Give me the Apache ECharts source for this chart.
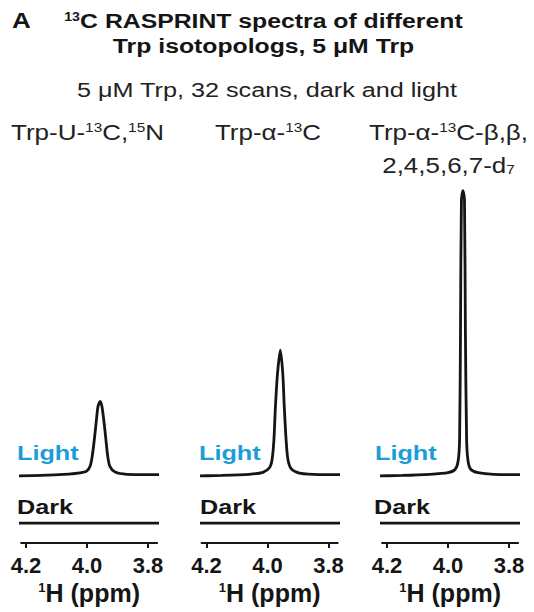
<!DOCTYPE html>
<html><head><meta charset="utf-8">
<script src="https://cdn.jsdelivr.net/npm/echarts@6/dist/echarts.min.js"></script>
<style>html,body{margin:0;padding:0;background:#fff}#c{width:534px;height:612px}</style>
</head><body><div id="c"></div>
<script>
// ---------- data ----------
const panelLetter = 'A';
const titleLines = ['{sup|13}C RASPRINT spectra of different', 'Trp isotopologs, 5 μM Trp'];
const subtitle = '5 μM Trp, 32 scans, dark and light';
const panelLabels = [
  ['Trp-U-{sup|13}C,{sup|15}N'],
  ['Trp-α-{sup|13}C'],
  ['Trp-α-{sup|13}C-β,β,', '2,4,5,6,7-d{sub|7}']
];
const traceNames = ['Light', 'Dark'];
const ppmTicks = [4.2, 4.0, 3.8];
const axisName = '{sup|1}H (ppm)';

// Light spectra (ppm, intensity relative to baseline; panel-3 peak = 100)
const light1Ppm = [4.25, 4.15, 4.06, 4.023, 4.001, 3.990, 3.983, 3.976, 3.970, 3.964, 3.957, 3.951, 3.944, 3.938, 3.932, 3.925, 3.908, 3.869, 3.80, 3.75];
const light1Int = [-0.5, -0.3, 0.2, 0.6, 1.2, 2.9, 6.4, 12.3, 18.3, 24.0, 25.8, 24.0, 18.3, 12.3, 6.4, 2.9, 0.9, 0.1, 0, 0];
const light2Ppm = [4.25, 4.15, 4.06, 4.015, 3.993, 3.985, 3.979, 3.974, 3.967, 3.958, 3.950, 3.945, 3.939, 3.933, 3.922, 3.895, 3.83, 3.75];
const light2Int = [-0.5, -0.3, 0.1, 0.8, 2.5, 5.3, 12.2, 23.9, 35.8, 43.8, 35.8, 23.9, 12.2, 5.3, 2.0, 0.5, 0, 0];
const light3Ppm = [4.25, 4.15, 4.06, 4.0, 3.977, 3.967, 3.962, 3.959, 3.956, 3.951, 3.946, 3.943, 3.939, 3.934, 3.925, 3.902, 3.85, 3.75];
const light3Int = [-0.5, -0.3, 0.1, 0.7, 1.8, 4.6, 12.3, 51, 96.8, 100, 96.8, 51, 12.3, 4.6, 1.8, 0.7, 0.1, 0];
// Dark spectra (flat)
const darkPpm = [4.25, 4.0, 3.75];
const darkInt = [0, 0, 0];

// ---------- layout / style ----------
const FONT = "'Liberation Sans', Arial, Helvetica, sans-serif";
const INK = '#151515';
const BLUE = '#1b9dd9';
const SX = 1.18;
const centers = [87, 267.5, 448];     // pixel of 4.0 ppm per panel
const pxPerPpm = 305;
const axMin = 3.77, axMax = 4.216;
const gridTop = 174, gridH = 369, yMax = 130;
const lightOffset = 24.1, darkOffset = 7.0;
const lightX = [17, 199, 375], darkX = [17, 200, 374];

const lightPpm = [light1Ppm, light2Ppm, light3Ppm];
const lightInt = [light1Int, light2Int, light3Int];

const grids = [], xAxes = [], yAxes = [], series = [];
for (let i = 0; i < 3; i++) {
  grids.push({ left: centers[i] - (axMax - 4.0) * pxPerPpm, width: (axMax - axMin) * pxPerPpm, top: gridTop, height: gridH, containLabel: false });
  xAxes.push({
    type: 'value', gridIndex: i, inverse: true, min: axMin, max: axMax,
    axisLine: { show: true, lineStyle: { color: INK, width: 2 } },
    axisTick: { show: true, customValues: ppmTicks, length: 5, inside: false, lineStyle: { color: INK, width: 2 } },
    axisLabel: { show: true, customValues: ppmTicks, formatter: v => Number(v).toFixed(1), fontSize: 22, fontWeight: 'bold', fontFamily: FONT, color: INK, margin: 11 },
    splitLine: { show: false },
    name: axisName, nameLocation: 'middle', nameGap: 36,
    nameTextStyle: {
      fontSize: 25, fontWeight: 'bold', fontFamily: FONT, color: INK, lineHeight: 25,
      rich: { sup: { fontSize: 13, fontWeight: 'bold', fontFamily: FONT, color: INK, lineHeight: 13, verticalAlign: 'top' } }
    }
  });
  yAxes.push({ type: 'value', gridIndex: i, min: 0, max: yMax, show: false });
  series.push({
    name: traceNames[0] + ' ' + (i + 1), type: 'line', xAxisIndex: i, yAxisIndex: i,
    data: lightPpm[i].map((p, k) => [p, lightInt[i][k] + lightOffset]),
    showSymbol: false, symbol: 'none', clip: false, smooth: 0.25, silent: true,
    lineStyle: { color: INK, width: 2.8 }
  });
  series.push({
    name: traceNames[1] + ' ' + (i + 1), type: 'line', xAxisIndex: i, yAxisIndex: i,
    data: darkPpm.map((p, k) => [p, darkInt[k] + darkOffset]),
    showSymbol: false, symbol: 'none', clip: false, silent: true,
    lineStyle: { color: INK, width: 2.8 }
  });
}

function txt(text, x, y, opts) {
  const fs = opts.fontSize;
  return {
    type: 'text', x: x, y: y, scaleX: opts.scaleX || SX, silent: true,
    style: {
      text: text, fill: opts.fill || INK, fontSize: fs, fontWeight: opts.fontWeight || 'normal', fontFamily: FONT,
      align: opts.align || 'center', verticalAlign: 'middle', lineHeight: fs,
      rich: {
        sup: { fontSize: Math.round(fs * 0.58), lineHeight: Math.round(fs * 0.58), fontWeight: opts.fontWeight || 'normal', fontFamily: FONT, fill: opts.fill || INK, verticalAlign: 'top' },
        sub: { fontSize: Math.round(fs * 0.58), lineHeight: Math.round(fs * 0.58), fontWeight: opts.fontWeight || 'normal', fontFamily: FONT, fill: opts.fill || INK, verticalAlign: 'bottom' }
      }
    }
  };
}

const graphics = [];
graphics.push(txt(panelLetter, 12, 20, { fontSize: 22, fontWeight: 'bold', align: 'left' }));
graphics.push(txt(titleLines[0], 263.5, 21, { fontSize: 21, fontWeight: 'bold' }));
graphics.push(txt(titleLines[1], 263.5, 46, { fontSize: 21, fontWeight: 'bold' }));
graphics.push(txt(subtitle, 267, 90, { fontSize: 21, fill: '#222', scaleX: 1.2 }));
for (let i = 0; i < 3; i++) {
  panelLabels[i].forEach((t, j) => {
    graphics.push(txt(t, centers[i] + 0.5, 132 + j * 33, { fontSize: 22, fill: '#222' }));
  });
  graphics.push(txt(traceNames[0], lightX[i], 453, { fontSize: 21, fontWeight: 'bold', fill: BLUE, align: 'left', scaleX: 1.2 }));
  graphics.push(txt(traceNames[1], darkX[i], 507, { fontSize: 21, fontWeight: 'bold', align: 'left', scaleX: 1.2 }));
}

const chart = echarts.init(document.getElementById('c'), null, { renderer: 'svg' });
chart.setOption({
  backgroundColor: '#ffffff',
  animation: false,
  grid: grids, xAxis: xAxes, yAxis: yAxes, series: series,
  graphic: graphics
});
</script>
</body></html>
